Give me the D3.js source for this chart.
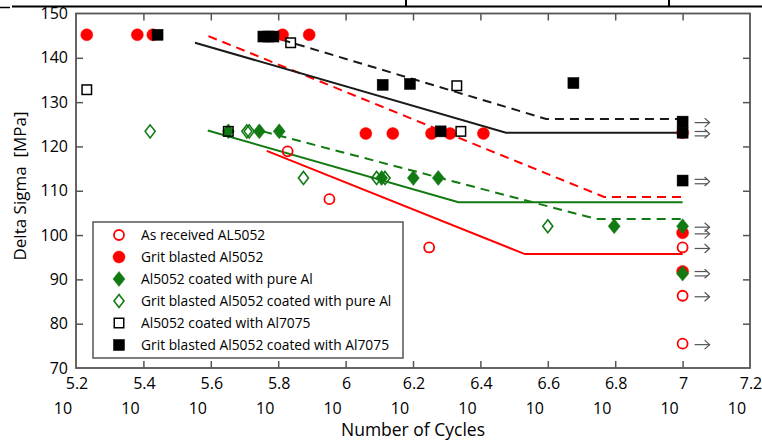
<!DOCTYPE html>
<html>
<head>
<meta charset="utf-8">
<script src="https://cdn.jsdelivr.net/npm/d3@7/dist/d3.min.js"></script>
<style>
  html, body { margin: 0; padding: 0; background: #fff; }
  svg { display: block; }
</style>
</head>
<body>
<svg id="chart" width="762" height="440"></svg>
<script>
// Fatigue data: [log10(cycles), delta sigma in MPa]
const asReceived = [[5.828,118.9],[5.952,108.1],[6.248,97.2],[7,97.2],[7,86.3],[7,75.5]];
const gritBlasted = [[5.232,145.2],[5.382,145.2],[5.428,145.2],[5.813,145.2],[5.892,145.2],
  [6.06,122.9],[6.14,122.9],[6.255,122.9],[6.31,122.9],[6.409,122.9],[7,123.1],[7,100.5],[7,91.8]];
const coatedPureAl = [[5.652,123.4],[5.744,123.4],[5.803,123.4],[6.107,112.9],[6.201,112.9],
  [6.275,112.9],[6.797,102],[7,102],[7,91.3]];
const gritCoatedPureAl = [[5.42,123.4],[5.707,123.4],[5.714,123.4],[5.875,112.9],[6.092,112.9],
  [6.117,112.9],[6.6,102]];
const coated7075 = [[5.232,132.8],[5.652,123.4],[5.837,143.4],[6.33,133.7],[6.342,123.4]];
const gritCoated7075 = [[5.442,145.2],[5.756,144.8],[5.771,144.8],[5.786,144.8],[6.11,133.9],
  [6.191,134.1],[6.282,123.4],[6.676,134.3],[7,125.6],[7,123.1],[7,112.3]];

// Run-outs at 10^7 cycles: [delta sigma, number of specimens]
const runouts = [[125.6,1],[123.1,2],[112.3,2],[102,1],[100.5,1],[97.2,1],[91.5,2],[86.3,1],[75.5,1]];

// S-N fit lines with fatigue-limit plateau
const fitAsReceived = [[5.766,119],[6.532,95.7],[7,95.7]];
const fitGritBlasted = [[5.593,144.9],[6.767,108.6],[7,108.6]];
const fitCoatedPureAl = [[5.591,123.6],[6.335,107.4],[7,107.4]];
const fitGritCoatedPureAl = [[5.755,123.4],[6.745,103.6],[7,103.6]];
const fitCoated7075 = [[5.553,143.4],[6.476,123.1],[7,123.1]];
const fitGritCoated7075 = [[5.81,144.1],[6.595,126.2],[7,126.2]];

const xTicks = [5.2,5.4,5.6,5.8,6,6.2,6.4,6.6,6.8,7,7.2];
const yTicks = [70,80,90,100,110,120,130,140,150];

const legendItems = [
  {label: "As received AL5052", shape: "circle", color: "#ff0000", fill: false},
  {label: "Grit blasted Al5052", shape: "circle", color: "#ff0000", fill: true},
  {label: "Al5052 coated with pure Al", shape: "diamond", color: "#127a12", fill: true},
  {label: "Grit blasted Al5052 coated with pure Al", shape: "diamond", color: "#127a12", fill: false},
  {label: "Al5052 coated with Al7075", shape: "square", color: "#000", fill: false},
  {label: "Grit blasted Al5052 coated with Al7075", shape: "square", color: "#000", fill: true}
];

const RED = "#ff0000", GREEN = "#127a12", BLACK = "#000";
const FONT = "'Open Sans', sans-serif";

const svg = d3.select("#chart");
const m = {left: 76, right: 750, top: 13.5, bottom: 368};

const x = d3.scaleLinear().domain([5.2, 7.2]).range([m.left, m.right]);
const y = d3.scaleLinear().domain([70, 150]).range([m.bottom, m.top]);

// header rule of the surrounding table
svg.append("line").attr("x1", 12).attr("x2", 762).attr("y1", 6.5).attr("y2", 6.5)
  .attr("stroke", "#000").attr("stroke-width", 2);
svg.append("line").attr("x1", 0).attr("x2", 10).attr("y1", 7.5).attr("y2", 7.5)
  .attr("stroke", "#000").attr("stroke-width", 1.5);
[406, 669].forEach(xx => svg.append("line").attr("x1", xx).attr("x2", xx)
  .attr("y1", 0).attr("y2", 7).attr("stroke", "#000").attr("stroke-width", 2));

// inward ticks on all four sides
const tickLen = 7;
const axisColor = "#555";
svg.append("g").attr("transform", `translate(0,${m.bottom})`)
  .call(d3.axisTop(x).tickValues(xTicks.slice(1, -1)).tickSize(tickLen).tickFormat(""))
  .call(g => g.select(".domain").remove())
  .selectAll("line").attr("stroke", axisColor).attr("stroke-width", 1.5);
svg.append("g").attr("transform", `translate(0,${m.top})`)
  .call(d3.axisBottom(x).tickValues(xTicks.slice(1, -1)).tickSize(tickLen).tickFormat(""))
  .call(g => g.select(".domain").remove())
  .selectAll("line").attr("stroke", axisColor).attr("stroke-width", 1.5);
svg.append("g").attr("transform", `translate(${m.left},0)`)
  .call(d3.axisRight(y).tickValues(yTicks.slice(1, -1)).tickSize(tickLen).tickFormat(""))
  .call(g => g.select(".domain").remove())
  .selectAll("line").attr("stroke", axisColor).attr("stroke-width", 1.5);
svg.append("g").attr("transform", `translate(${m.right},0)`)
  .call(d3.axisLeft(y).tickValues(yTicks.slice(1, -1)).tickSize(tickLen).tickFormat(""))
  .call(g => g.select(".domain").remove())
  .selectAll("line").attr("stroke", axisColor).attr("stroke-width", 1.5);

// plot frame
svg.append("rect").attr("x", m.left).attr("y", m.top)
  .attr("width", m.right - m.left).attr("height", m.bottom - m.top)
  .attr("fill", "none").attr("stroke", axisColor).attr("stroke-width", 1.8);

// y tick labels
svg.append("g").selectAll("text").data(yTicks).join("text")
  .attr("x", 68).attr("y", d => y(d)).attr("dy", "0.35em")
  .attr("text-anchor", "end").attr("font-family", FONT).attr("font-size", 16)
  .attr("fill", "#000").text(d => d);

// x tick labels: exponent row above, base row below
const xl = svg.append("g");
xl.selectAll("text.exp").data(xTicks).join("text").attr("class", "exp")
  .attr("x", d => x(d) + 1).attr("y", 383).attr("dy", "0.35em")
  .attr("text-anchor", "middle").attr("font-family", FONT).attr("font-size", 16)
  .attr("fill", "#000").text(d => d3.format("")(d));
xl.selectAll("text.base").data(xTicks).join("text").attr("class", "base")
  .attr("x", d => x(d) - 13).attr("y", 408).attr("dy", "0.35em")
  .attr("text-anchor", "middle").attr("font-family", FONT).attr("font-size", 16)
  .attr("fill", "#000").text("10");

// axis titles
svg.append("text").attr("x", (m.left + m.right) / 2).attr("y", 430).attr("dy", "0.35em")
  .attr("text-anchor", "middle").attr("font-family", FONT).attr("font-size", 17.5)
  .attr("fill", "#000").text("Number of Cycles");
svg.append("text").attr("transform", "translate(20,186) rotate(-90)").attr("dy", "0.35em")
  .attr("text-anchor", "middle").attr("font-family", FONT).attr("font-size", 17)
  .attr("fill", "#000").text("Delta Sigma\u00a0 [MPa]");

// fit lines
const line = d3.line().x(d => x(d[0])).y(d => y(d[1]));
const fits = [
  [fitAsReceived, RED, null], [fitGritBlasted, RED, "9,6"],
  [fitCoatedPureAl, GREEN, null], [fitGritCoatedPureAl, GREEN, "9,6"],
  [fitCoated7075, "#1a1a1a", null], [fitGritCoated7075, "#1a1a1a", "9,6"]
];
svg.append("g").selectAll("path").data(fits).join("path")
  .attr("d", d => line(d[0])).attr("fill", "none")
  .attr("stroke", d => d[1]).attr("stroke-width", 2)
  .attr("stroke-dasharray", d => d[2]);

// marker drawing
function marker(sel, shape, color, fill) {
  if (shape === "circle") {
    sel.append("circle").attr("r", fill ? 6 : 5)
      .attr("fill", fill ? color : "none").attr("stroke", color)
      .attr("stroke-width", fill ? 0.5 : 1.8);
  } else if (shape === "diamond") {
    const p = fill ? "M0,-7.5L6,0L0,7.5L-6,0Z" : "M0,-6.5L5,0L0,6.5L-5,0Z";
    sel.append("path").attr("d", p)
      .attr("fill", fill ? color : "#fff").attr("fill-opacity", fill ? 1 : 0)
      .attr("stroke", color).attr("stroke-width", fill ? 0.5 : 1.6);
  } else {
    const s = fill ? 11 : 9.5;
    sel.append("rect").attr("x", -s / 2).attr("y", -s / 2).attr("width", s).attr("height", s)
      .attr("fill", fill ? color : "none").attr("stroke", color)
      .attr("stroke-width", fill ? 0.5 : 1.5);
  }
}

const series = [
  [gritBlasted, "circle", RED, true],
  [asReceived, "circle", RED, false],
  [coatedPureAl, "diamond", GREEN, true],
  [gritCoatedPureAl, "diamond", GREEN, false],
  [coated7075, "square", BLACK, false],
  [gritCoated7075, "square", BLACK, true]
];
series.forEach(([data, shape, color, fill]) => {
  svg.append("g").selectAll("g").data(data).join("g")
    .attr("transform", d => `translate(${x(d[0])},${y(d[1])})`)
    .each(function () { marker(d3.select(this), shape, color, fill); });
});

// run-out arrows beside the 10^7 specimens
const ax0 = x(7) + 12, ax1 = x(7) + 27;
const ra = svg.append("g").attr("stroke", "#555").attr("fill", "none").attr("stroke-width", 1.2);
runouts.forEach(([s, n]) => {
  const yy = y(s) + 1;
  const g = ra.append("g").attr("transform", `translate(0,${yy})`);
  if (n === 1) {
    g.append("line").attr("x1", ax0).attr("x2", ax1).attr("y1", 0).attr("y2", 0);
  } else {
    g.append("line").attr("x1", ax0).attr("x2", ax1 - 2).attr("y1", -2.2).attr("y2", -2.2);
    g.append("line").attr("x1", ax0).attr("x2", ax1 - 2).attr("y1", 2.2).attr("y2", 2.2);
  }
  g.append("path").attr("d", `M${ax1 - 5},-4.5L${ax1},0L${ax1 - 5},4.5`);
});

// legend
const lg = svg.append("g");
lg.append("rect").attr("x", 93).attr("y", 222).attr("width", 310).attr("height", 136)
  .attr("fill", "#fff").attr("stroke", axisColor).attr("stroke-width", 1.5);
legendItems.forEach((it, i) => {
  const yy = 235 + i * 22;
  const g = lg.append("g").attr("transform", `translate(119,${yy})`);
  marker(g, it.shape, it.color, it.fill);
  lg.append("text").attr("x", 141).attr("y", yy).attr("dy", "0.35em")
    .attr("font-family", FONT).attr("font-size", 13.8).attr("fill", "#000").text(it.label);
});
</script>
</body>
</html>
